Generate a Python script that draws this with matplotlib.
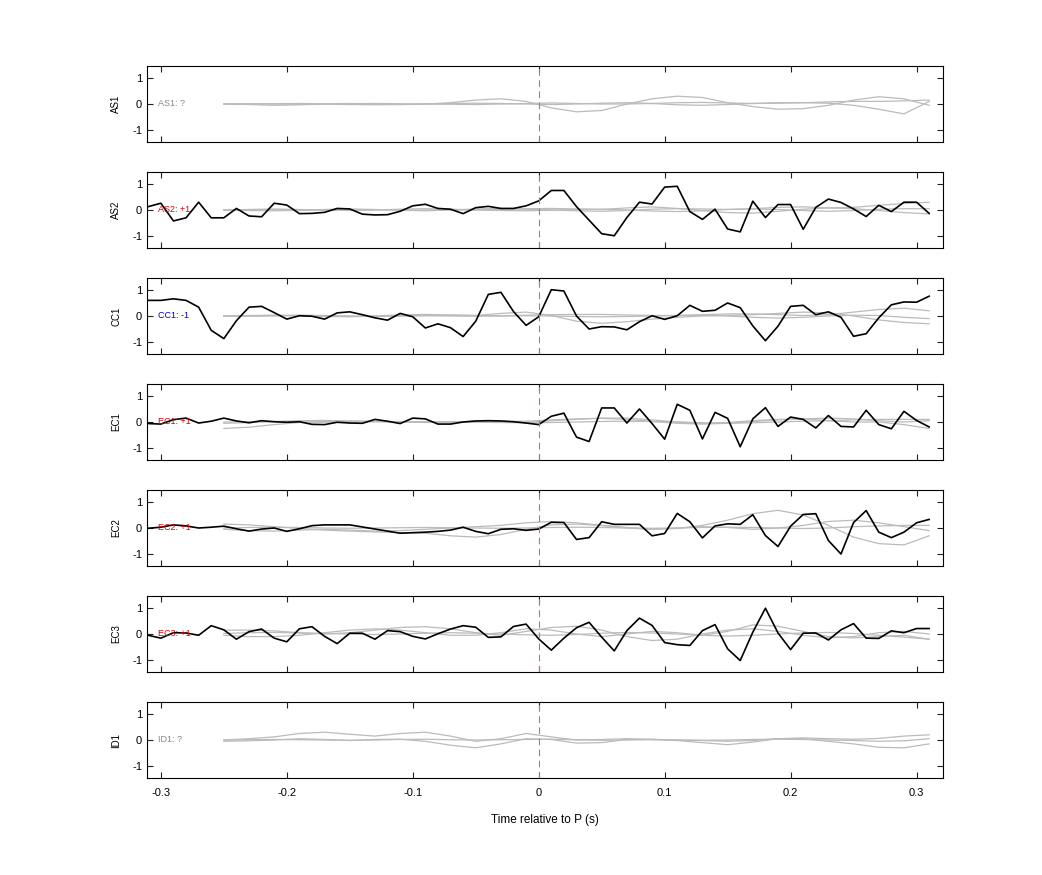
import numpy as np
import matplotlib
matplotlib.use("Agg")
import matplotlib.pyplot as plt

stations = ["AS1", "AS2", "CC1", "EC1", "EC2", "EC3", "ID1"]
labels = ["AS1: ?", "AS2: +1", "CC1: -1", "EC1: +1", "EC2: +1", "EC3: +1", "ID1: ?"]
label_colors = ["#888888", "#dd0000", "#0000cc", "#dd0000", "#dd0000", "#dd0000", "#888888"]

t_black = np.round(np.arange(-0.32, 0.3101, 0.01), 2)
black = {
 "AS2": [0.03,0.13,0.26,-0.42,-0.3,0.3,-0.3,-0.3,0.06,-0.23,-0.26,0.26,0.19,-0.14,-0.13,-0.09,0.06,0.04,-0.16,-0.19,-0.18,-0.05,0.16,0.22,0.06,0.03,-0.14,0.09,0.14,0.06,0.06,0.16,0.35,0.75,0.75,0.13,-0.39,-0.91,-0.99,-0.29,0.3,0.23,0.88,0.91,-0.06,-0.36,0.03,-0.73,-0.84,0.34,-0.29,0.21,0.21,-0.74,0.1,0.42,0.29,0.04,-0.25,0.18,-0.06,0.3,0.3,-0.13],
 "CC1": [0.37,0.6,0.6,0.66,0.6,0.34,-0.55,-0.87,-0.18,0.34,0.37,0.13,-0.12,0.01,-0.01,-0.12,0.12,0.16,0.05,-0.07,-0.16,0.1,-0.03,-0.46,-0.3,-0.45,-0.79,-0.2,0.83,0.91,0.17,-0.36,-0.03,1.01,0.96,0.0,-0.5,-0.41,-0.42,-0.53,-0.22,0.01,-0.13,0.01,0.41,0.18,0.22,0.5,0.32,-0.38,-0.95,-0.39,0.37,0.41,0.05,0.16,-0.05,-0.78,-0.68,-0.07,0.43,0.54,0.53,0.76],
 "EC1": [0.0,-0.06,-0.08,0.09,0.15,-0.04,0.03,0.15,0.04,-0.03,0.05,0.01,-0.01,0.01,-0.09,-0.1,-0.01,-0.04,-0.05,0.1,0.03,-0.06,0.15,0.12,-0.08,-0.08,0.0,0.04,0.05,0.04,0.01,-0.04,-0.1,0.22,0.34,-0.58,-0.75,0.54,0.54,-0.04,0.5,-0.06,-0.66,0.68,0.45,-0.65,0.37,0.14,-0.95,0.12,0.55,-0.17,0.19,0.1,-0.23,0.25,-0.17,-0.19,0.45,-0.1,-0.26,0.41,0.06,-0.19],
 "EC2": [0.0,-0.01,0.03,0.12,0.08,0.0,0.03,0.07,-0.03,-0.12,-0.04,0.0,-0.13,-0.03,0.09,0.12,0.12,0.12,0.04,-0.04,-0.12,-0.2,-0.18,-0.16,-0.13,-0.08,0.03,-0.13,-0.22,-0.05,-0.03,-0.09,-0.04,0.22,0.21,-0.44,-0.37,0.24,0.14,0.14,0.14,-0.3,-0.21,0.56,0.24,-0.38,0.08,0.16,0.14,0.51,-0.29,-0.71,0.07,0.52,0.55,-0.48,-1.0,0.21,0.67,-0.16,-0.37,-0.16,0.2,0.33],
 "EC3": [0.12,-0.05,-0.16,0.05,0.04,-0.05,0.32,0.16,-0.2,0.09,0.19,-0.16,-0.3,0.2,0.28,-0.09,-0.37,0.03,0.03,-0.2,0.13,0.09,-0.09,-0.19,0.01,0.19,0.32,0.26,-0.13,-0.11,0.29,0.38,-0.19,-0.62,-0.16,0.24,0.45,-0.12,-0.65,0.13,0.61,0.33,-0.33,-0.41,-0.44,0.13,0.36,-0.57,-1.02,0.07,0.99,0.04,-0.6,0.03,0.04,-0.23,0.16,0.4,-0.16,-0.17,0.12,0.05,0.21,0.21],
}

t_gray = np.round(np.arange(-0.25, 0.3201, 0.02), 2)  # 29 points
gray = {
 "AS1": [
  [0,-0.02,-0.05,-0.03,0,0.02,0,-0.02,0,0.05,0.15,0.2,0.1,-0.15,-0.3,-0.25,0,0.2,0.3,0.25,0.05,-0.1,-0.2,-0.18,-0.05,0.15,0.28,0.2,-0.05],
  [0,0,0.01,0.02,0,-0.02,-0.03,-0.02,0,0.02,0.03,0.02,0,-0.02,0,0.03,0.05,0.02,-0.03,-0.05,-0.02,0.02,0.05,0.05,0.03,-0.05,-0.2,-0.38,0.1],
  [0,0.01,0,-0.01,0,0.01,0.02,0.01,0,-0.01,-0.02,0,0.02,0.04,0.02,0,0,0.02,0.05,0.06,0.04,0.02,0.03,0.05,0.08,0.1,0.1,0.12,0.15],
 ],
 "AS2": [
  [0,0.02,0.04,0.02,0,-0.02,0,0.03,0.05,0.03,0,0.02,0.05,0.06,0.04,0.02,0.08,0.12,0.06,-0.02,-0.1,-0.12,-0.05,0.03,0.08,0.05,-0.02,-0.1,-0.15],
  [0,-0.02,-0.03,-0.01,0.02,0.04,0.02,-0.01,-0.03,0,0.04,0.06,0.03,0,-0.03,-0.05,-0.02,0.03,0.05,0.04,0.02,0.05,0.1,0.12,0.08,0.1,0.18,0.25,0.3],
  [0,0,0.01,0,-0.01,0,0.01,0,0,0.01,0,-0.02,-0.03,-0.01,0.02,0.03,0,-0.04,-0.06,-0.03,0.02,0.04,0.02,-0.02,-0.05,-0.02,0.03,0.05,0.05],
 ],
 "CC1": [
  [0,0.02,0.03,0.01,-0.02,-0.03,0,0.04,0.06,0.04,0.02,0.1,0.15,0.02,-0.2,-0.28,-0.22,-0.12,-0.05,0,0.02,0.05,0.1,0.15,0.12,0,-0.15,-0.25,-0.3],
  [0,0.01,0.02,0.03,0.02,0,-0.01,0,0.02,0.03,0.02,0.01,0.03,0.05,0.06,0.06,0.04,0.02,0.02,0.05,0.08,0.08,0.05,0.02,0.05,0.15,0.25,0.3,0.2],
  [0,-0.01,0,0.02,0.01,-0.01,-0.02,0,0.01,0,-0.01,0,0.01,0,-0.02,-0.03,-0.02,0,0.02,0.03,0,-0.05,-0.08,-0.05,0,0.03,0.02,-0.05,-0.1],
 ],
 "EC1": [
  [-0.25,-0.2,-0.1,-0.02,0.02,0.03,0.02,0,-0.02,0,0.02,0.01,-0.02,0.05,0.1,0.15,0.15,0.08,0,-0.05,-0.02,0.05,0.1,0.12,0.05,0,0,-0.1,-0.25],
  [-0.05,-0.02,0.02,0.05,0.06,0.04,0.02,0.01,0,0,0.01,0.02,0.03,0.08,0.12,0.14,0.1,0.02,-0.05,-0.08,-0.05,0.02,0.08,0.12,0.15,0.12,0.05,0,0.05],
  [0,0.01,0.01,0,-0.01,0,0.01,0.02,0.01,0,-0.01,-0.02,-0.03,-0.02,0,0.02,0.03,0.02,0,-0.03,-0.05,-0.03,0,0.03,0.05,0.08,0.1,0.1,0.1],
 ],
 "EC2": [
  [0.15,0.12,0.05,-0.02,-0.08,-0.12,-0.15,-0.18,-0.2,-0.3,-0.35,-0.25,-0.05,0.12,0.15,0.1,0.02,-0.05,-0.02,0.1,0.3,0.55,0.68,0.5,0.1,-0.35,-0.6,-0.65,-0.3],
  [-0.05,-0.1,-0.12,-0.08,-0.05,-0.08,-0.12,-0.1,-0.05,0,0.05,0.1,0.2,0.25,0.2,0.1,0,-0.05,0,0.05,0.02,-0.05,0,0.1,0.25,0.3,0.2,0.05,-0.1],
  [0,0.02,0.03,0.02,0,-0.01,0,0.01,0.02,0.01,0,-0.01,0,0.02,0.03,0.02,0,-0.01,0,0.02,0.03,0.02,0,-0.02,0,0.05,0.08,0.1,0.1],
 ],
 "EC3": [
  [0.15,0.15,0.12,0.05,0,0.05,0.15,0.25,0.28,0.2,0.05,-0.05,0.1,0.25,0.3,0.15,-0.1,-0.25,-0.2,0,0.15,0.2,0.1,-0.05,-0.15,-0.1,0.05,0.1,0],
  [-0.05,-0.1,-0.1,-0.05,0.05,0.15,0.2,0.15,0.05,-0.05,-0.05,0.05,0.2,0.15,0,-0.1,0,0.1,0.05,-0.05,0.1,0.35,0.3,0.1,-0.1,-0.15,-0.1,-0.05,-0.2],
  [0.02,0.05,0.06,0.04,0.02,0,-0.02,0,0.03,0.05,0.03,0,-0.03,-0.05,-0.02,0.03,0.06,0.04,0,-0.05,-0.08,-0.05,0,0.04,0.06,0.02,-0.05,-0.12,-0.2],
 ],
 "ID1": [
  [0,0.05,0.12,0.25,0.3,0.22,0.15,0.25,0.3,0.15,-0.05,0.05,0.25,0.12,0,0.02,0.05,0.02,0,-0.02,-0.05,-0.02,0.05,0.08,0.05,0.03,0.06,0.15,0.2],
  [-0.05,-0.03,0,0.05,0.02,-0.02,0.02,0.03,-0.05,-0.2,-0.3,-0.15,0.05,0.02,-0.12,-0.1,0.02,0.03,-0.02,-0.1,-0.18,-0.08,0.05,0.05,-0.05,-0.15,-0.28,-0.3,-0.15],
  [0,0.01,0.02,0.01,0,-0.01,0,0.02,0.03,0.01,0,0.01,0.02,0.03,0.01,-0.01,0,0.01,0,-0.01,0,0.02,0.03,0.02,0,-0.02,-0.05,-0.03,0.05],
 ],
}

plt.rcParams['font.family'] = ['Liberation Sans', 'DejaVu Sans']
plt.rcParams['axes.unicode_minus'] = False
fig = plt.figure(figsize=(10.42, 8.75), dpi=100)
left, width = 147/1042, (943-147)/1042
h = 76/875
for i, st in enumerate(stations):
    top = 66 + 106*i
    ax = fig.add_axes([left, 1 - (top+76)/875, width, h])
    for g in gray[st]:
        ax.plot(t_gray, g, color="#bbbbbb", lw=0.9)
    if st in black:
        ax.plot(t_black, black[st], color="black", lw=1.2)
    ax.axvline(0, color="#e06666", lw=0.8, ls=(0, (6, 4)))
    ax.set_xlim(-0.311, 0.321)
    ax.set_ylim(-1.46, 1.46)
    ax.set_yticks([-1, 0, 1])
    ax.set_xticks([-0.3, -0.2, -0.1, 0, 0.1, 0.2, 0.3])
    ax.tick_params(direction="in", top=True, right=True, labelsize=8, length=4, color="#222222")
    ax.tick_params(axis="x", pad=7)
    if i < len(stations) - 1:
        ax.set_xticklabels([])
    else:
        ax.set_xticklabels(["-0.3", "-0.2", "-0.1", "0", "0.1", "0.2", "0.3"])
        ax.set_xlabel("Time relative to P (s)", fontsize=8.5, labelpad=12)
    ax.set_ylabel(st, fontsize=7, labelpad=8)
    ax.text(-0.302, 0, labels[i], color=label_colors[i], fontsize=6.5, va="center", ha="left")
fig.savefig("out.png", dpi=100)
